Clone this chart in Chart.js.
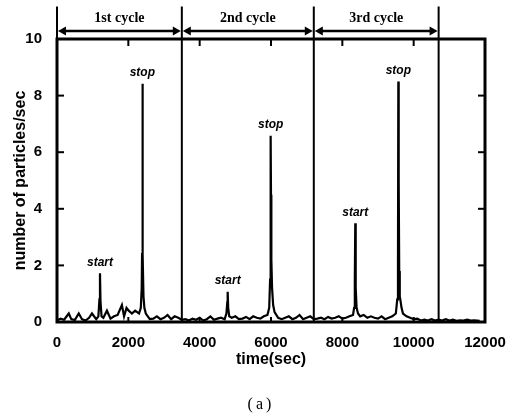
<!DOCTYPE html>
<html><head><meta charset="utf-8">
<script src="https://cdn.jsdelivr.net/npm/chart.js@4/dist/chart.umd.min.js"></script>
<style>html,body{margin:0;padding:0;background:#fff}#wrap{width:516px;height:417px}</style>
</head><body><div id="wrap"><canvas id="c" width="516" height="417"></canvas></div>
<script>
const times = [0,100,200,330,400,500,610,700,800,900,980,1100,
 1160,1190,1205,1220,1250,
 1300,1400,1500,1600,1700,1820,1880,1950,2010,2100,2190,2300,
 2350,2375,2385,2392,2400,2410,2425,2450,2490,
 2600,2700,2800,2900,3000,3100,3200,3300,3400,3500,
 3600,3700,3800,3900,4000,4100,4200,4300,4400,4500,4600,4700,
 4750,4775,4785,4800,4830,
 4900,5000,5100,5200,5300,5400,5500,5600,5700,5800,5900,
 5950,5975,5990,6000,6010,6030,6060,6100,
 6200,6300,6400,6500,6600,6700,6800,6900,7000,7100,7200,
 7300,7400,7500,7600,7700,7800,7900,8000,8100,8200,8300,
 8330,8350,8363,8375,8400,8440,
 8500,8600,8700,8800,8900,9000,9100,9200,9300,9400,9500,
 9540,9560,9570,9580,9595,9610,9625,9660,9700,
 9800,9900,10000,10100,10200,10300,10400,10500,10600,10700,
 10800,10900,11000,11100,11200,11300,11400,11500,11600,11700,11850];
const counts = [0.05,0.12,0.08,0.3,0.1,0.07,0.3,0.1,0.05,0.15,0.3,0.1,
 0.2,0.8,1.72,0.7,0.2,
 0.15,0.4,0.12,0.2,0.25,0.6,0.2,0.5,0.4,0.3,0.4,0.3,
 0.5,1.2,2.4,8.42,5.8,2.4,0.9,0.5,0.3,
 0.1,0.12,0.2,0.1,0.15,0.25,0.1,0.2,0.15,0.08,
 0.1,0.05,0.12,0.08,0.15,0.05,0.1,0.2,0.08,0.12,0.15,0.1,
 0.3,0.7,1.07,0.5,0.2,
 0.15,0.2,0.1,0.12,0.18,0.1,0.2,0.15,0.12,0.2,0.25,
 0.5,1.5,6.58,4.5,2.2,1.2,0.6,0.35,
 0.15,0.1,0.15,0.2,0.1,0.15,0.25,0.1,0.15,0.2,0.1,
 0.12,0.15,0.1,0.18,0.12,0.15,0.2,0.12,0.15,0.2,0.25,
 0.5,1.5,3.49,1.2,0.5,0.3,
 0.2,0.25,0.15,0.2,0.15,0.12,0.2,0.1,0.15,0.2,0.3,
 0.8,2.0,8.5,5.0,1.8,0.9,0.8,0.5,0.3,
 0.2,0.15,0.1,0.12,0.05,0.08,0.05,0.1,0.05,0.08,
 0.05,0.1,0.05,0.08,0.04,0.06,0.05,0.08,0.05,0.06,0.04];

const peakTimes = [1205, 2392, 4785, 5990, 8363, 9570];
const peakValues = [1.72, 8.42, 1.07, 6.58, 3.49, 8.5];
const peakLabels = ['start','stop','start','stop','start','stop'];

const cycleBounds = [0, 3500, 7200, 10700];
const cycleLabels = ['1st cycle','2nd cycle','3rd cycle'];

const xTicks = [0,2000,4000,6000,8000,10000,12000];
const yTicks = [0,2,4,6,8,10];

const ARROW_Y = 10.28, LINE_TOP = 11.15;
const SANS = '"Liberation Sans", Arial, sans-serif';

const deco = {
  id: 'deco',
  afterDraw(chart) {
    const ctx = chart.ctx, xs = chart.scales.x, ys = chart.scales.y, a = chart.chartArea;
    ctx.save();
    ctx.strokeStyle = '#000'; ctx.fillStyle = '#000';
    ctx.lineWidth = 3;
    ctx.strokeRect(a.left, a.top, a.right - a.left, a.bottom - a.top);
    ctx.lineWidth = 2;
    yTicks.slice(1, -1).forEach(v => {
      const py = ys.getPixelForValue(v);
      ctx.beginPath(); ctx.moveTo(a.left, py); ctx.lineTo(a.left + 7, py); ctx.stroke();
      ctx.beginPath(); ctx.moveTo(a.right, py); ctx.lineTo(a.right - 7, py); ctx.stroke();
    });
    xTicks.slice(1, -1).forEach(v => {
      const px = xs.getPixelForValue(v);
      ctx.beginPath(); ctx.moveTo(px, a.top); ctx.lineTo(px, a.top + 7); ctx.stroke();
      ctx.beginPath(); ctx.moveTo(px, a.bottom); ctx.lineTo(px, a.bottom - 5); ctx.stroke();
    });
    const topPx = ys.getPixelForValue(LINE_TOP);
    ctx.lineWidth = 2;
    cycleBounds.forEach(b => {
      const px = xs.getPixelForValue(b);
      ctx.beginPath(); ctx.moveTo(px, a.bottom); ctx.lineTo(px, topPx); ctx.stroke();
    });
    const ay = ys.getPixelForValue(ARROW_Y);
    for (let i = 0; i < cycleLabels.length; i++) {
      const x1 = xs.getPixelForValue(cycleBounds[i]) + 1;
      const x2 = xs.getPixelForValue(cycleBounds[i + 1]) - 1;
      ctx.lineWidth = 2.5;
      ctx.beginPath(); ctx.moveTo(x1 + 4, ay); ctx.lineTo(x2 - 4, ay); ctx.stroke();
      ctx.beginPath(); ctx.moveTo(x1, ay); ctx.lineTo(x1 + 8, ay - 4.5); ctx.lineTo(x1 + 8, ay + 4.5); ctx.closePath(); ctx.fill();
      ctx.beginPath(); ctx.moveTo(x2, ay); ctx.lineTo(x2 - 8, ay - 4.5); ctx.lineTo(x2 - 8, ay + 4.5); ctx.closePath(); ctx.fill();
      ctx.font = 'bold 14px "Liberation Serif", serif';
      ctx.textAlign = 'center'; ctx.textBaseline = 'middle';
      ctx.fillText(cycleLabels[i], (x1 + x2) / 2, ay - 13);
    }
    ctx.font = 'italic bold 12px ' + SANS;
    ctx.textAlign = 'center'; ctx.textBaseline = 'middle';
    peakTimes.forEach((t, i) => {
      ctx.fillText(peakLabels[i], xs.getPixelForValue(t), ys.getPixelForValue(peakValues[i]) - 11);
    });
    ctx.font = '16px "Liberation Serif", serif';
    try { ctx.letterSpacing = '3px'; } catch (e) {}
    ctx.fillText('(a)', 261, 405);
    ctx.restore();
  }
};

new Chart(document.getElementById('c'), {
  type: 'line',
  data: {
    datasets: [{
      data: times.map((t, i) => ({x: t, y: counts[i]})),
      borderColor: '#000', borderWidth: 2.2, pointRadius: 0, tension: 0, fill: false
    }]
  },
  options: {
    responsive: false, animation: false,
    layout: {padding: {top: 39, right: 31, left: 0, bottom: 0}},
    plugins: {legend: {display: false}, tooltip: {enabled: false}},
    scales: {
      x: {
        type: 'linear', min: 0, max: 12000,
        afterBuildTicks: s => { s.ticks = xTicks.map(v => ({value: v})); },
        afterFit: s => { s.height = 95; },
        grid: {display: false}, border: {display: false},
        ticks: {color: '#000', padding: 4, maxRotation: 0, autoSkip: false,
          callback: v => String(v),
          font: {family: SANS, size: 15, weight: 'bold'}},
        title: {display: true, text: 'time(sec)', color: '#000', padding: {top: 0, bottom: 48},
          font: {family: SANS, size: 16, weight: 'bold'}}
      },
      y: {
        min: 0, max: 10,
        afterBuildTicks: s => { s.ticks = yTicks.map(v => ({value: v})); },
        afterFit: s => { s.width = 57; },
        grid: {display: false}, border: {display: false},
        ticks: {color: '#000', padding: 7, callback: v => String(v),
          font: {family: SANS, size: 15, weight: 'bold'}},
        title: {display: true, text: 'number of particles/sec', color: '#000', padding: {top: 11, bottom: 0},
          font: {family: SANS, size: 16, weight: 'bold'}}
      }
    }
  },
  plugins: [deco]
});
</script></body></html>
